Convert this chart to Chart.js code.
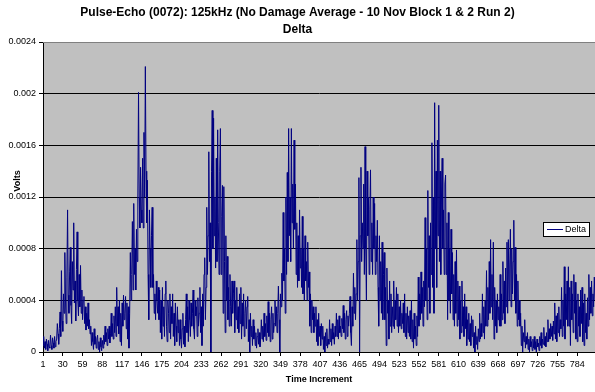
<!DOCTYPE html>
<html>
<head>
<meta charset="utf-8">
<script src="https://cdn.jsdelivr.net/npm/chart.js@4"></script>
<style>
html, body { margin: 0; padding: 0; background: #fff; }
#wrap { width: 595px; height: 392px; }
</style>
</head>
<body>
<div id="wrap"><canvas id="deltaChart" width="595" height="392"></canvas></div>
<script>
var chartTitle = ['Pulse-Echo (0072): 125kHz (No Damage Average - 10 Nov Block 1 & 2 Run 2)', 'Delta'];
var seriesName = 'Delta';
var xTitle = 'Time Increment';
var yTitle = 'Volts';

// Delta values, in units of 0.00001 V
var deltaRaw = [
  5, 12, 3, 8, 2, 10, 6, 1, 9, 4,
  3, 13, 5, 2, 11, 7, 3, 12, 4, 8,
  10, 22, 14, 6, 18, 31, 12, 63, 24, 16,
  45, 30, 77, 40, 22, 58, 110, 44, 30, 62,
  81, 36, 22, 70, 48, 100, 38, 55, 24, 64,
  93, 40, 28, 60, 35, 67, 30, 48, 25, 40,
  43, 22, 35, 17, 30, 20, 38, 18, 25, 14,
  20, 5, 15, 8, 2, 18, 6, 12, 3, 10,
  13, 2, 8, 0, 11, 4, 1, 9, 3, 13,
  6, 20, 8, 15, 5, 18, 10, 20, 7, 14,
  30, 12, 22, 10, 28, 15, 35, 12, 50, 20,
  35, 14, 40, 8, 30, 5, 38, 20, 44, 25,
  30, 43, 18, 38, 10, 35, 3, 30, 77, 40,
  60, 101, 48, 115, 60, 80, 48, 95, 70, 120,
  201, 120, 96, 143, 110, 100, 150, 96, 170, 120,
  221, 140, 100, 133, 60, 25, 110, 80, 50, 90,
  112, 50, 60, 30, 45, 25, 55, 40, 30, 50,
  25, 48, 15, 40, 10, 50, 20, 35, 12, 45,
  55, 20, 8, 40, 30, 15, 45, 10, 35, 22,
  45, 12, 30, 5, 38, 20, 8, 35, 15, 25,
  5, 25, 10, 3, 18, 30, 6, 20, 4, 25,
  45, 15, 35, 8, 40, 25, 12, 38, 20, 30,
  48, 18, 10, 40, 28, 35, 12, 42, 20, 30,
  50, 15, 35, 5, 45, 20, 60, 73, 25, 50,
  112, 60, 90, 155, 70, 100, 0, 140, 187, 80,
  181, 90, 120, 65, 150, 70, 172, 100, 60, 140,
  173, 60, 105, 129, 30, 128, 70, 15, 90, 40,
  74, 25, 50, 20, 60, 35, 20, 55, 30, 45,
  55, 15, 40, 25, 50, 18, 35, 15, 45, 22,
  50, 10, 38, 20, 45, 12, 30, 40, 18, 35,
  43, 8, 25, 0, 30, 12, 20, 5, 25, 10,
  20, 5, 15, 3, 12, 18, 6, 15, 4, 10,
  25, 10, 20, 8, 30, 12, 22, 9, 28, 15,
  39, 12, 30, 8, 25, 35, 10, 30, 15, 22,
  40, 20, 35, 15, 30, 51, 25, 0, 45, 35,
  61, 40, 108, 55, 80, 30, 120, 60, 139, 70,
  173, 90, 120, 70, 173, 100, 130, 80, 164, 95,
  130, 60, 100, 50, 90, 55, 110, 65, 80, 50,
  105, 45, 80, 40, 90, 55, 70, 40, 85, 50,
  62, 20, 45, 15, 40, 25, 35, 15, 30, 20,
  35, 8, 25, 5, 30, 12, 20, 5, 22, 10,
  20, 2, 12, 0, 15, 5, 18, 3, 10, 6,
  25, 8, 18, 5, 22, 10, 15, 6, 20, 12,
  30, 12, 25, 10, 28, 15, 20, 12, 26, 18,
  36, 15, 30, 10, 25, 32, 12, 28, 20, 30,
  43, 15, 5, 35, 20, 61, 30, 50, 25, 45,
  87, 40, 70, 135, 0, 90, 143, 70, 100, 80,
  130, 60, 159, 80, 40, 140, 90, 120, 60, 110,
  141, 70, 100, 60, 120, 80, 115, 60, 90, 70,
  102, 50, 20, 90, 40, 70, 30, 85, 25, 60,
  77, 25, 50, 5, 65, 30, 40, 10, 55, 20,
  45, 15, 35, 20, 55, 18, 40, 25, 50, 20,
  45, 15, 35, 20, 40, 18, 30, 22, 38, 15,
  45, 12, 30, 10, 35, 15, 28, 12, 32, 10,
  40, 8, 25, 3, 30, 10, 20, 5, 28, 12,
  58, 20, 45, 25, 62, 30, 50, 20, 55, 35,
  104, 40, 80, 25, 125, 50, 90, 30, 100, 60,
  162, 50, 120, 30, 193, 80, 140, 50, 164, 90,
  191, 70, 140, 60, 120, 150, 80, 110, 60, 130,
  137, 60, 100, 25, 108, 40, 80, 30, 95, 45,
  77, 25, 60, 20, 70, 30, 79, 20, 55, 25,
  51, 10, 40, 15, 55, 20, 35, 12, 45, 18,
  35, 5, 25, 10, 30, 8, 22, 5, 28, 12,
  25, 3, 15, 0, 20, 6, 12, 2, 18, 8,
  30, 10, 22, 12, 45, 15, 35, 10, 40, 20,
  63, 20, 50, 25, 70, 30, 87, 35, 60, 25,
  85, 10, 50, 20, 40, 15, 45, 25, 35, 20,
  60, 20, 45, 25, 70, 30, 55, 22, 65, 35,
  85, 30, 87, 40, 65, 95, 35, 80, 45, 70,
  102, 40, 81, 30, 60, 20, 55, 25, 40, 20,
  30, 5, 20, 0, 15, 8, 25, 3, 12, 6,
  15, 2, 10, 0, 12, 4, 8, 1, 10, 3,
  12, 2, 8, 0, 10, 4, 7, 1, 12, 5,
  15, 3, 10, 6, 19, 5, 12, 4, 15, 8,
  25, 8, 18, 10, 22, 12, 20, 9, 24, 14,
  38, 10, 28, 8, 30, 15, 35, 12, 25, 18,
  50, 12, 40, 20, 66, 10, 45, 25, 55, 20,
  66, 20, 50, 5, 55, 25, 45, 15, 60, 30,
  54, 10, 40, 8, 45, 20, 35, 12, 48, 22,
  50, 8, 38, 5, 45, 15, 30, 10, 42, 20,
  60, 25, 50, 30, 55, 28, 45, 35, 58, 40
];

var xTickLabels = [1, 30, 59, 88, 117, 146, 175, 204, 233, 262, 291, 320, 349, 378, 407, 436, 465, 494, 523, 552, 581, 610, 639, 668, 697, 726, 755, 784];
var yMin = 0, yMax = 0.0024, yStep = 0.0004;

// time increments 1..N
var categories = [];
for (var i = 1; i <= deltaRaw.length; i++) categories.push(i);
var delta = deltaRaw.map(function (v) { return v / 100000; });

var FONT = 'Arial, "Liberation Sans", sans-serif';

// gray plot area + border, y title and the little legend box
var excelLook = {
  id: 'excelLook',
  beforeDraw: function (chart) {
    var a = chart.chartArea, ctx = chart.ctx;
    ctx.save();
    ctx.fillStyle = '#c0c0c0';
    ctx.fillRect(a.left, a.top, a.right - a.left, a.bottom - a.top);
    ctx.restore();
  },
  afterDraw: function (chart) {
    var a = chart.chartArea, ctx = chart.ctx;
    ctx.save();
    ctx.strokeStyle = '#808080';
    ctx.lineWidth = 1;
    ctx.beginPath();
    ctx.moveTo(a.left, a.top + 0.5);
    ctx.lineTo(a.right, a.top + 0.5);
    ctx.stroke();

    // y axis title
    ctx.fillStyle = '#000';
    ctx.font = 'bold 9px ' + FONT;
    ctx.textAlign = 'center';
    ctx.textBaseline = 'middle';
    ctx.translate(18, 181);
    ctx.rotate(-Math.PI / 2);
    ctx.fillText(yTitle, 0, 0);
    ctx.setTransform(1, 0, 0, 1, 0, 0);

    // legend
    var lx = a.right - 52, ly = a.top + 180;
    ctx.fillStyle = '#fff';
    ctx.fillRect(lx, ly, 46, 14);
    ctx.strokeStyle = '#000';
    ctx.strokeRect(lx + 0.5, ly + 0.5, 46, 14);
    ctx.strokeStyle = '#000080';
    ctx.beginPath();
    ctx.moveTo(lx + 4, ly + 7.5);
    ctx.lineTo(lx + 20, ly + 7.5);
    ctx.stroke();
    ctx.fillStyle = '#000';
    ctx.font = '9px ' + FONT;
    ctx.textAlign = 'left';
    ctx.fillText(seriesName, lx + 22, ly + 8);
    ctx.restore();
  }
};

var ctx = document.getElementById('deltaChart').getContext('2d');
var deltaChart = new Chart(ctx, {
  type: 'line',
  data: {
    labels: categories,
    datasets: [{
      label: seriesName,
      data: delta,
      borderColor: '#000080',
      borderWidth: 1,
      pointRadius: 0,
      tension: 0,
      fill: false
    }]
  },
  options: {
    responsive: false,
    animation: false,
    devicePixelRatio: 1,
    layout: { padding: { left: 0, right: 0, top: 0, bottom: 0 } },
    plugins: {
      legend: { display: false },
      tooltip: { enabled: false },
      title: {
        display: true,
        text: chartTitle,
        color: '#000',
        font: { family: FONT, size: 12, weight: 'bold', lineHeight: 1.35 },
        padding: { top: 5, bottom: 4.6 }
      }
    },
    scales: {
      x: {
        type: 'category',
        offset: false,
        afterBuildTicks: function (axis) {
          axis.ticks = axis.ticks.filter(function (t) {
            return xTickLabels.indexOf(categories[t.value]) >= 0;
          });
        },
        afterFit: function (scale) { scale.height = 40; },
        grid: { display: true, drawOnChartArea: false, tickLength: 4, color: '#000' },
        border: { color: '#000', width: 1 },
        ticks: {
          autoSkip: false,
          maxRotation: 0,
          padding: 3,
          color: '#000',
          font: { family: FONT, size: 9 }
        },
        title: {
          display: true,
          text: xTitle,
          color: '#000',
          font: { family: FONT, size: 9, weight: 'bold' },
          padding: { top: 2, bottom: 7 }
        }
      },
      y: {
        min: yMin,
        max: yMax,
        afterFit: function (scale) { scale.width = 43; },
        grid: { color: '#000', tickLength: 4 },
        border: { color: '#000', width: 1 },
        ticks: {
          stepSize: yStep,
          padding: 3,
          color: '#000',
          font: { family: FONT, size: 9 },
          callback: function (v) { return String(Number(v.toFixed(4))); }
        }
      }
    }
  },
  plugins: [excelLook]
});
</script>
</body>
</html>
